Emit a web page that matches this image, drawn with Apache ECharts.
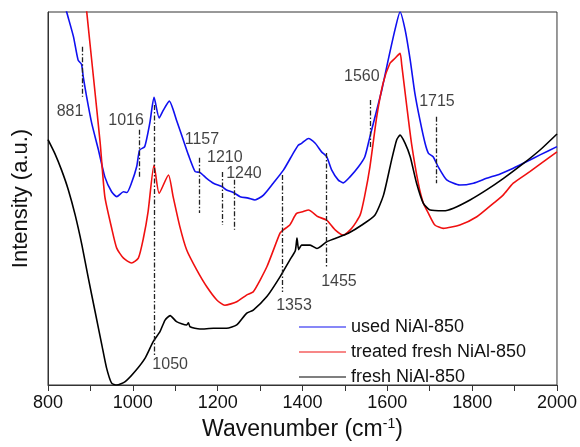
<!DOCTYPE html>
<html>
<head>
    <meta charset="UTF-8">
    <title>IR spectra NiAl-850</title>
    <script type="text/javascript" src="https://cdn.jsdelivr.net/npm/echarts@6/dist/echarts.min.js"></script>
</head>
<body style="margin:0">
<div id="main" style="width:580px;height:447px;"></div>
<script type="text/javascript">
    // spectra: [wavenumber, intensity (0..100 across the plot height)]
    var usedData = [[800,119],[844,100],[860,93.4],[871,87.1],[879,86.0],[883,82.7],[891,77.3],[903,70.2],[919,63.0],[934,55.8],
        [950,51.8],[962,50.5],[978,51.8],[986,51.6],[997,54.2],[1009,58.5],[1016,63.0],[1028,63.9],[1040,70.2],[1050,77.1],
        [1062,71.6],[1072,73.7],[1086,76.1],[1103,71.0],[1119,65.7],[1131,61.7],[1147,57.2],[1158,57.0],[1174,55.4],[1190,54.1],
        [1210,53.2],[1221,52.3],[1237,51.6],[1253,50.5],[1272,50.1],[1288,49.6],[1308,50.9],[1331,54.1],[1355,57.6],[1378,62.1],
        [1390,64.3],[1398,64.8],[1414,66.1],[1430,64.8],[1445,62.5],[1457,61.2],[1469,57.6],[1484,55.0],[1496,54.2],[1512,55.8],
        [1532,58.5],[1547,61.2],[1559,66.6],[1571,71.9],[1587,79.1],[1602,87.1],[1618,95.2],[1630,100],[1642,95.2],[1654,87.1],
        [1665,78.2],[1677,71.0],[1689,64.8],[1697,62.1],[1708,61.2],[1720,58.5],[1740,55.0],[1771,53.6],[1803,54.1],[1834,55.4],
        [1866,56.6],[1897,58.1],[1929,59.9],[1960,61.7],[2000,63.9]];
    var treatedData = [[885,108],[891,100.4],[907,82.7],[923,64.9],[934,50.5],[950,42.1],[962,36.7],[978,34.0],[997,32.7],[1013,34.0],
        [1025,39.4],[1036,46.5],[1050,59.0],[1062,51.4],[1084,56.3],[1095,50.5],[1111,42.4],[1127,36.2],[1151,30.8],[1174,26.4],
        [1198,22.8],[1217,21.4],[1245,22.3],[1268,24.1],[1284,25.0],[1316,31.7],[1347,40.7],[1355,41.6],[1370,42.9],[1386,46.0],
        [1402,46.5],[1414,46.9],[1437,45.1],[1457,44.2],[1477,41.6],[1496,40.2],[1516,42.0],[1536,45.6],[1547,50.9],[1559,58.5],
        [1575,71.9],[1590,80.9],[1606,86.2],[1618,87.6],[1630,88.9],[1634,85.8],[1646,74.6],[1657,64.8],[1673,54.1],[1685,48.7],
        [1697,46.0],[1712,42.9],[1732,42.0],[1771,42.9],[1811,45.1],[1850,48.7],[1873,50.9],[1897,54.1],[1936,57.2],[2000,62.5]];
    var freshData = [[800,65.8],[816,62.1],[832,57.6],[848,52.3],[864,45.6],[880,37.5],[895,28.7],[911,19.7],[927,10.7],[938,4.6],
        [950,0.5],[962,0],[982,0.9],[1005,3.6],[1029,7.2],[1048,11.6],[1064,14.3],[1076,17.4],[1088,18.6],[1103,17.0],
        [1127,16.1],[1131,16.7],[1135,15.6],[1158,15.0],[1190,15.2],[1221,15.2],[1245,16.1],[1268,19.2],[1284,20.1],[1316,23.7],
        [1347,29.0],[1370,33.5],[1383,36.0],[1387,39.4],[1391,36.3],[1398,37.5],[1418,37.5],[1434,36.6],[1457,38.4],[1477,39.3],
        [1508,40.7],[1540,42.9],[1571,45.6],[1591,50.9],[1610,60.3],[1622,65.7],[1630,67.0],[1642,64.8],[1654,61.2],[1669,54.1],
        [1685,48.7],[1701,46.9],[1732,46.7],[1756,47.4],[1795,49.6],[1834,52.3],[1874,55.4],[1921,59.4],[1960,63.0],[2000,67.3]];

    // dash-dot marker lines and their labels
    var peakPos = [881, 1016, 1050, 1157, 1210, 1240, 1353, 1455, 1560, 1715];
    var peakTop = [90.7, 68.4, 75.1, 60.9, 57.1, 55.0, 56.3, 62.2, 76.4, 71.9];
    var peakBottom = [77.3, 55.5, 7.5, 46.1, 42.9, 41.6, 24.9, 31.6, 63.5, 54.1];
    var labelX = [852, 984, 1088, 1163, 1217, 1262, 1380, 1486, 1540, 1717];
    var labelY = [73.2, 71.0, 5.4, 65.7, 60.9, 56.6, 21.4, 27.6, 82.8, 75.9];

    var xTicks = [800, 1000, 1200, 1400, 1600, 1800, 2000];
    var seriesNames = ['used NiAl-850', 'treated fresh NiAl-850', 'fresh NiAl-850'];

    var font = 'Liberation Sans, Arial, sans-serif';
    var myChart = echarts.init(document.getElementById('main'));

    var markData = [];
    for (var i = 0; i < peakPos.length; i++) {
        markData.push([{coord: [peakPos[i], peakTop[i]]}, {coord: [peakPos[i], peakBottom[i]]}]);
    }
    var labelData = [];
    for (var j = 0; j < labelX.length; j++) {
        labelData.push([labelX[j], labelY[j], String(peakPos[j])]);
    }

    function spectrum(name, data, color) {
        return {
            name: name,
            type: 'line',
            data: data,
            symbol: 'none',
            smooth: 0.2,
            lineStyle: {color: color, width: 1.6},
            itemStyle: {color: color}
        };
    }

    myChart.setOption({
        animation: false,
        textStyle: {fontFamily: font},
        grid: {left: 48, right: 23, top: 12, bottom: 62, show: true, borderColor: '#333', borderWidth: 1},
        legend: {
            data: seriesNames,
            orient: 'vertical',
            left: 294,
            top: 313,
            icon: 'path://M0,0 L40,0 L40,1 L0,1 Z',
            itemWidth: 47,
            itemHeight: 2,
            itemGap: 7,
            textStyle: {fontSize: 18, color: '#111', fontFamily: font}
        },
        xAxis: {
            type: 'value',
            min: 800,
            max: 2000,
            interval: 100,
            name: 'Wavenumber (cm{sup|-1})',
            nameLocation: 'middle',
            nameGap: 27,
            nameTextStyle: {
                fontSize: 23, color: '#111', fontFamily: font,
                rich: {sup: {fontSize: 14, verticalAlign: 'top', padding: [0, 0, 12, 0], color: '#111'}}
            },
            axisLine: {lineStyle: {color: '#333', width: 1}},
            axisTick: {inside: false, length: 6, lineStyle: {color: '#333'}},
            axisLabel: {
                fontSize: 18, color: '#111', margin: 9,
                formatter: function (v) { return xTicks.indexOf(v) >= 0 ? String(v) : ''; }
            },
            splitLine: {show: false}
        },
        yAxis: {
            type: 'value',
            min: 0,
            max: 100,
            name: 'Intensity (a.u.)',
            nameLocation: 'middle',
            nameGap: 16,
            nameTextStyle: {fontSize: 22, color: '#111', fontFamily: font},
            axisLine: {show: true, lineStyle: {color: '#333', width: 1}},
            axisTick: {show: false},
            axisLabel: {show: false},
            splitLine: {show: false}
        },
        series: [
            spectrum(seriesNames[0], usedData, '#1010f0'),
            spectrum(seriesNames[1], treatedData, '#f01010'),
            spectrum(seriesNames[2], freshData, '#000000'),
            {
                name: 'marks',
                type: 'line',
                data: [],
                markLine: {
                    silent: true,
                    symbol: 'none',
                    label: {show: false},
                    lineStyle: {color: '#222', width: 1.3, type: [5, 2, 1.5, 2]},
                    data: markData
                }
            },
            {
                name: 'labels',
                type: 'scatter',
                data: labelData,
                symbolSize: 1,
                itemStyle: {color: 'rgba(0,0,0,0)'},
                label: {
                    show: true,
                    position: 'inside',
                    fontSize: 16,
                    color: '#111',
                    fontFamily: font,
                    formatter: function (p) { return p.value[2]; }
                }
            }
        ]
    });
</script>
</body>
</html>
